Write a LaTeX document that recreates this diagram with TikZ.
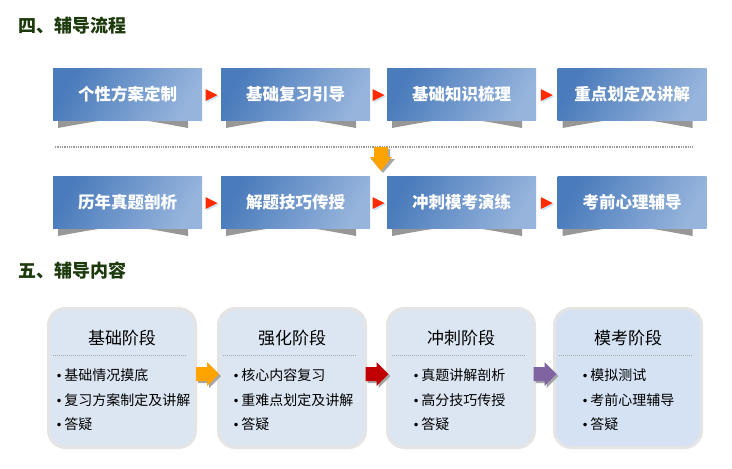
\documentclass[tikz,border=0pt]{standalone}
\usepackage{fontspec}
\setmainfont{Noto Sans CJK SC}
\newfontfamily\dvfont{DejaVu Sans}
\usetikzlibrary{calc}
\definecolor{ttl}{HTML}{1C3A0C}
\definecolor{boxA}{HTML}{4A7BBB}
\definecolor{boxB}{HTML}{96B4DC}
\definecolor{base}{HTML}{979797}
\definecolor{tri}{HTML}{FF2A00}
\definecolor{trish}{HTML}{C8E4F5}
\definecolor{stfill}{HTML}{DCE6F3}
\definecolor{stfillb}{HTML}{D4E2F4}
\definecolor{stline}{HTML}{E4E4E4}
\definecolor{aor}{HTML}{FFA300}
\definecolor{ared}{HTML}{C00000}
\definecolor{apur}{HTML}{8064A2}
\definecolor{ashadow}{HTML}{A6A6A6}
\tikzset{
  title/.style={anchor=west, inner sep=0, text=ttl, font=\bfseries\fontsize{18}{18}\selectfont},
  flowbox/.style={minimum width=149, minimum height=52, inner sep=0,
    left color=boxA, right color=boxB, shading angle=62,
    text=white, font=\bfseries\fontsize{16.5}{17}\selectfont},
  stagebox/.style={draw=stline, line width=3, fill=stfill, rounded corners=17,
    minimum width=147, minimum height=139, inner sep=0},
  stagehead/.style={inner sep=0, font=\fontsize{17}{17}\selectfont},
  stagelist/.style={inner sep=0, align=left, font=\fontsize{14}{24.5}\selectfont},
}
\newcommand{\itm}{{\dvfont\fontsize{12}{12}\selectfont •}\hspace{1.5pt}}
% right-pointing block arrow centred on coordinate #1
\newcommand{\rarrow}[2]{%
  \fill[ashadow] ($(#1)+(-9,-5)$) -- ($(#1)+(2,-5)$) -- ($(#1)+(2,-10)$) -- ($(#1)+(14,2)$) -- ($(#1)+(2,14)$) -- ($(#1)+(2,9)$) -- ($(#1)+(-9,9)$) -- cycle;
  \fill[#2] ($(#1)+(-11,-7)$) -- ($(#1)+(0,-7)$) -- ($(#1)+(0,-12)$) -- ($(#1)+(12,0)$) -- ($(#1)+(0,12)$) -- ($(#1)+(0,7)$) -- ($(#1)+(-11,7)$) -- cycle;}
\begin{document}
\begin{tikzpicture}[x=1pt,y=-1pt]
\useasboundingbox[fill=white] (0,0) rectangle (732,469);
% ---------- section 4 ----------
\node[title] (h1) at (18,26) {四、辅导流程};
% base shadows
\foreach \cx/\cy in {127.5/94, 295.5/94, 461.5/94, 632/94, 127.5/202, 295.5/202, 461.5/202, 632/202}{
  \fill[base] (\cx-69.5,\cy+26) -- (\cx-69.5,\cy+34) .. controls (\cx-4,\cy+22) .. (\cx+60.5,\cy+34) -- (\cx+60.5,\cy+26) -- cycle;
}
\node[flowbox] (t1) at (127.5,94) {个性方案定制};
\node[flowbox] (t2) at (295.5,94) {基础复习引导};
\node[flowbox] (t3) at (461.5,94) {基础知识梳理};
\node[flowbox] (t4) at (632,94) {重点划定及讲解};
\node[flowbox] (u1) at (127.5,202) {历年真题剖析};
\node[flowbox] (u2) at (295.5,202) {解题技巧传授};
\node[flowbox] (u3) at (461.5,202) {冲刺模考演练};
\node[flowbox] (u4) at (632,202) {考前心理辅导};
% red triangles
\foreach \a/\b in {t1/t2, t2/t3, t3/t4, u1/u2, u2/u3, u3/u4}{
  \coordinate (m) at ($(\a.east)!0.5!(\b.west)+(0,1)$);
  \fill[trish] ($(m)+(-4.5,-4.5)$) -- ($(m)+(7.5,1.5)$) -- ($(m)+(-4.5,7.5)$) -- cycle;
  \fill[tri] ($(m)+(-6,-6)$) -- ($(m)+(6,0)$) -- ($(m)+(-6,6)$) -- cycle;
}
% dotted separator
\coordinate (dl) at (55,147);
\coordinate (dr) at (693,147);
\draw[gray!80, line width=1.3, densely dotted] (dl) -- (dr);
% orange down arrow (top at y 147)
\coordinate (dg) at ($(t2.east)!0.5!(t3.west)+(2.5,53)$);
\fill[ashadow] ($(dg)+(-5,2)$) -- ($(dg)+(9,2)$) -- ($(dg)+(9,12)$) -- ($(dg)+(14,12)$) -- ($(dg)+(2,26)$) -- ($(dg)+(-10,12)$) -- ($(dg)+(-5,12)$) -- cycle;
\fill[aor] ($(dg)+(-7,0)$) -- ($(dg)+(7,0)$) -- ($(dg)+(7,10)$) -- ($(dg)+(11,10)$) -- ($(dg)+(0,24)$) -- ($(dg)+(-11,10)$) -- ($(dg)+(-7,10)$) -- cycle;
% ---------- section 5 ----------
\node[title] (h2) at (18,271) {五、辅导内容};
\node[stagebox] (s1) at (122,378) {};
\node[stagebox] (s2) at (292,378) {};
\node[stagebox] (s3) at (461,378) {};
\node[stagebox, fill=stfillb] (s4) at (628,378) {};
\foreach \s/\h in {s1/基础阶段, s2/强化阶段, s3/冲刺阶段, s4/模考阶段}{
  \node[stagehead] (\s h) at ($(\s.center)+(0,-40)$) {\h};
  \draw[gray!70, line width=1, densely dotted] ($(\s.center)+(-69,-23)$) -- ($(\s.center)+(65,-23)$);
}
\node[stagelist] (l1) at ($(s1.center)+(1,22)$) {\itm 基础情况摸底\\ \itm 复习方案制定及讲解\\ \itm 答疑};
\node[stagelist] (l2) at ($(s2.center)+(1,22)$) {\itm 核心内容复习\\ \itm 重难点划定及讲解\\ \itm 答疑};
\node[stagelist] (l3) at ($(s3.center)+(-2,22)$) {\itm 真题讲解剖析\\ \itm 高分技巧传授\\ \itm 答疑};
\node[stagelist] (l4) at ($(s4.center)+(0,22)$) {\itm 模拟测试\\ \itm 考前心理辅导\\ \itm 答疑};
% block arrows between stages
\coordinate (g1) at ($(s1.east)!0.5!(s2.west)+(0,-4)$);
\coordinate (g2) at ($(s2.east)!0.5!(s3.west)+(0,-4)$);
\coordinate (g3) at ($(s3.east)!0.5!(s4.west)+(0,-4)$);
\rarrow{g1}{aor}
\rarrow{g2}{ared}
\rarrow{g3}{apur}
\end{tikzpicture}
\end{document}
